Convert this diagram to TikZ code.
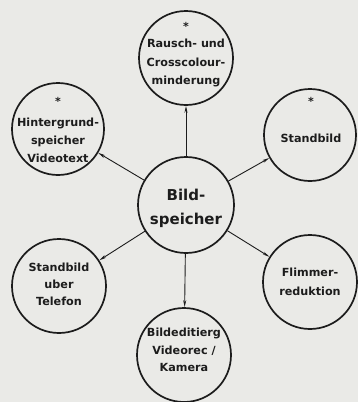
\documentclass[tikz,border=0pt]{standalone}
\usepackage{fontspec}
\setmainfont{DejaVu Sans}
\usetikzlibrary{arrows.meta}
\definecolor{bg}{RGB}{234,234,231}
\definecolor{ink}{RGB}{28,28,28}
\begin{document}
\begin{tikzpicture}[x=1pt,y=-1pt,
  bubble/.style={circle,draw=ink,line width=1.7pt,minimum size=94pt,inner sep=0pt},
  hub/.style={circle,draw=ink,line width=1.7pt,minimum size=96pt,inner sep=0pt},
  txt/.style={align=center,text=ink,inner sep=0pt,font=\bfseries\fontsize{11.2}{18.5}\selectfont},
  hubtxt/.style={align=center,text=ink,inner sep=0pt,font=\bfseries\fontsize{15}{24}\selectfont},
  star/.style={text=ink,inner sep=0pt,font=\bfseries\fontsize{11}{11}\selectfont},
  conn/.style={draw=ink,line width=0.9pt,-{Stealth[length=7pt,width=3pt]}}]
\fill[bg] (0,0) rectangle (358,402);
\useasboundingbox (0,0) rectangle (358,402);
% circles
\node[hub] (c) at (186,205) {};
\node[bubble] (top) at (186,58) {};
\node[bubble,minimum size=92pt] (tl) at (58,129) {};
\node[bubble,minimum size=92pt] (tr) at (310,135) {};
\node[bubble] (bl) at (59,286) {};
\node[bubble] (br) at (310,282) {};
\node[bubble] (b) at (184,355) {};
% texts
\node[hubtxt] (ct) at (186,208) {Bild-\\speicher};
\node[star] (tops) at (186,26) {*};
\node[txt] (topt) at (186,63) {Rausch- und\\Crosscolour-\\minderung};
\node[star] (tls) at (58,101) {*};
\node[txt,font=\bfseries\fontsize{11.2}{18}\selectfont] (tlt) at (58,140) {Hintergrund-\\speicher\\Videotext};
\node[star] (trs) at (311,101) {*};
\node[txt] (trt) at (311,138) {Standbild};
\node[txt,font=\bfseries\fontsize{11.2}{17}\selectfont] (blt) at (59,284) {Standbild\\uber\\Telefon};
\node[txt] (brt) at (310,282) {Flimmer-\\reduktion};
\node[txt,font=\bfseries\fontsize{11.2}{17.5}\selectfont] (bt) at (184,350) {Bildeditierg\\Videorec /\\Kamera};
% connectors
\draw[conn] (c) -- (top);
\draw[conn] (c) -- (tl);
\draw[conn] (c) -- (tr);
\draw[conn] (c) -- (bl);
\draw[conn] (c) -- (br);
\draw[conn] (c) -- (b);
\end{tikzpicture}
\end{document}
